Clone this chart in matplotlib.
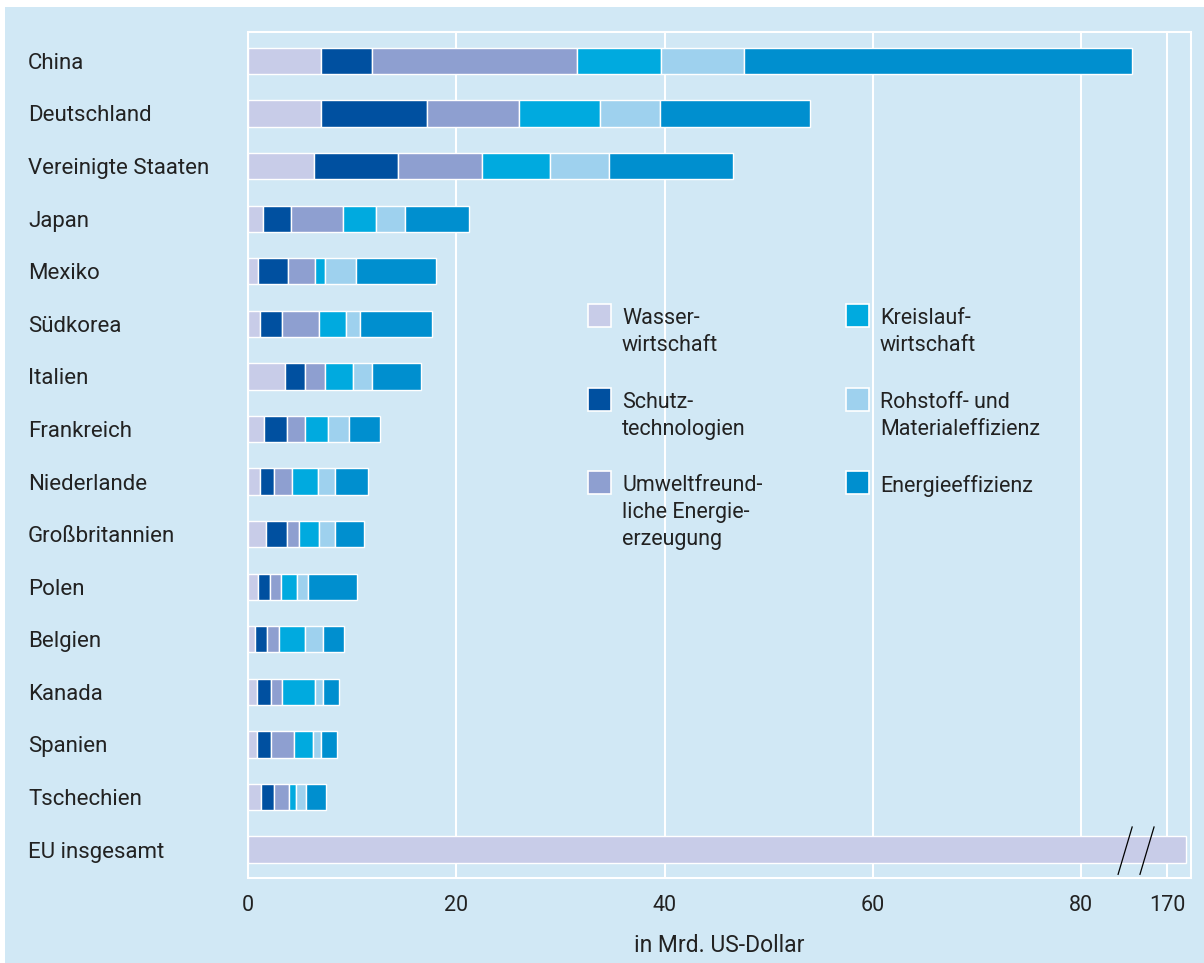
import matplotlib
matplotlib.use("Agg")
import matplotlib.pyplot as plt
from matplotlib.patches import Rectangle
from matplotlib.lines import Line2D
import numpy as np

# Daten (in Mrd. US-Dollar)
laender = ["China", "Deutschland", "Vereinigte Staaten", "Japan", "Mexiko",
           "Südkorea", "Italien", "Frankreich", "Niederlande", "Großbritannien",
           "Polen", "Belgien", "Kanada", "Spanien", "Tschechien"]
wasser = [7.0, 7.0, 6.3, 1.4, 1.0, 1.2, 3.6, 1.5, 1.2, 1.7, 1.0, 0.7, 0.9, 0.9, 1.25]
schutz = [4.9, 10.2, 8.1, 2.7, 2.8, 2.1, 1.9, 2.2, 1.3, 2.0, 1.1, 1.1, 1.3, 1.3, 1.25]
umwelt = [19.7, 8.8, 8.1, 5.0, 2.65, 3.5, 1.9, 1.8, 1.75, 1.2, 1.05, 1.2, 1.05, 2.2, 1.4]
kreislauf = [8.1, 7.8, 6.5, 3.2, 0.95, 2.65, 2.7, 2.2, 2.45, 1.95, 1.55, 2.5, 3.15, 1.8, 0.75]
rohstoff = [7.9, 5.8, 5.7, 2.8, 2.95, 1.35, 1.8, 2.0, 1.7, 1.55, 1.1, 1.7, 0.8, 0.85, 0.9]
energie = [37.3, 14.4, 11.9, 6.1, 7.75, 6.85, 4.75, 3.0, 3.1, 2.7, 4.65, 2.0, 1.55, 1.5, 1.9]
eu_label = "EU insgesamt"
eu_insgesamt = 171.8

kategorien = ["Wasser-\nwirtschaft", "Schutz-\ntechnologien",
              "Umweltfreund-\nliche Energie-\nerzeugung", "Kreislauf-\nwirtschaft",
              "Rohstoff- und\nMaterialeffizienz", "Energieeffizienz"]
farben = ["#C8CCE8", "#0050A0", "#8E9FD0", "#00AADF", "#9ED1EE", "#008FCF"]
x_ticks = [0, 20, 40, 60, 80, 170]

BG = "#D1E8F5"
TXT = "#222222"
plt.rcParams["font.family"] = ["Roboto", "DejaVu Sans"]

# Achsenbruch: Werte ueber 85 werden nach 170 -> 88.25 verschoben
def skala(v):
    v = np.asarray(v, dtype=float)
    return np.where(v > 85, v - 170 + 88.25, v)

W, H = 1204, 963
fig = plt.figure(figsize=(W / 100, H / 100), dpi=100, facecolor="white")
fig.patches.append(Rectangle((5 / W, 0), 1, (H - 7) / H, transform=fig.transFigure,
                             facecolor=BG, edgecolor="none", zorder=-5))

ax = fig.add_axes([248 / W, (H - 878) / H, (1191 - 248) / W, (878 - 32) / H])
ax.set_facecolor(BG)

serien = [wasser, schutz, umwelt, kreislauf, rohstoff, energie]
y = np.arange(len(laender))
links = np.zeros(len(laender))
for werte, farbe in zip(serien, farben):
    ax.barh(y, werte, left=links, height=0.5, color=farbe, edgecolor="white",
            linewidth=1.0, zorder=3)
    links += np.array(werte)

y_eu = len(laender)
ax.barh(y_eu, skala(eu_insgesamt), height=0.5, color=farben[0], edgecolor="white",
        linewidth=1.0, zorder=3)

# Bruchzeichen
for xb in (83.55, 85.65):
    ax.add_line(Line2D([xb, xb + 1.35], [y_eu + 0.47, y_eu - 0.43], color="black",
                       linewidth=0.9, zorder=5))

ax.set_xlim(0, 90.55)
ax.set_ylim(y_eu + 0.54, -0.55)
ax.set_xticks(skala(x_ticks))
ax.set_xticklabels([str(t) for t in x_ticks])
ax.set_yticks(list(y) + [y_eu])
ax.set_yticklabels(laender + [eu_label], ha="left")
ax.tick_params(axis="y", length=0, pad=(248 - 28) * 0.72, labelsize=16, labelcolor=TXT)
ax.tick_params(axis="x", length=0, pad=12, labelsize=15.5, labelcolor=TXT)
ax.grid(axis="x", color="white", linewidth=1.5, zorder=1)
for s in ax.spines.values():
    s.set_color("white")
    s.set_linewidth(1.5)
ax.set_xlabel("in Mrd. US-Dollar", fontsize=16.5, color=TXT, labelpad=13)

# Legende
def px(x, yy):
    return x / W, (H - yy) / H

pos = [(588, 304), (588, 388), (588, 471), (846, 304), (846, 388), (846, 471)]
for (lx, ly), name, farbe in zip(pos, kategorien, farben):
    fx, fy = px(lx, ly + 23)
    fig.patches.append(Rectangle((fx, fy), 23 / W, 23 / H, transform=fig.transFigure,
                                 facecolor=farbe, edgecolor="white", linewidth=1.2, zorder=4))
    tx, ty = px(lx + 34, ly + 4)
    fig.text(tx, ty, name, fontsize=15.5, color=TXT, va="top", ha="left", linespacing=1.38)

fig.savefig("out.png", dpi=100, facecolor="white")
